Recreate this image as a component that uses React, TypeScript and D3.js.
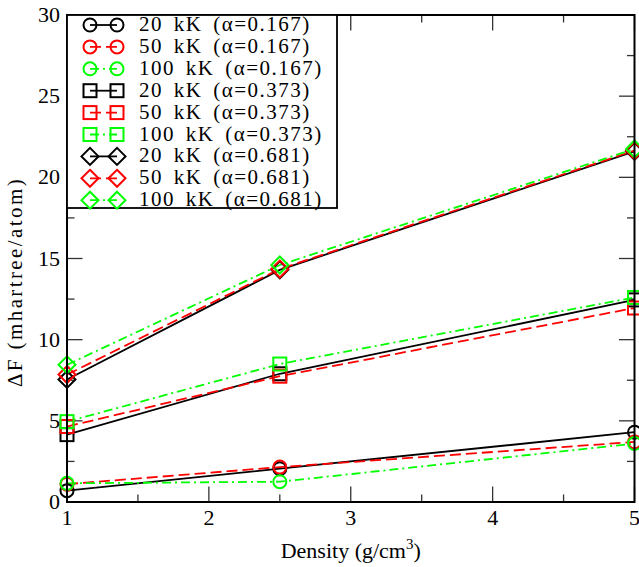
import React from 'react';
import * as d3 from 'd3';

// density points (g/cm^3)
const densities = [1, 2.5, 5];

// ΔF (mhartree/atom)
const c20_167 = [0.7, 2.05, 4.3];
const c50_167 = [1.1, 2.15, 3.7];
const c100_167 = [1.15, 1.25, 3.6];
const s20_373 = [4.15, 7.9, 12.45];
const s50_373 = [4.65, 7.75, 11.95];
const s100_373 = [4.95, 8.5, 12.6];
const d20_681 = [7.55, 14.3, 21.6];
const d50_681 = [7.85, 14.35, 21.65];
const d100_681 = [8.45, 14.6, 21.75];

const seriesNames = [
  '20 kK (α=0.167)', '50 kK (α=0.167)', '100 kK (α=0.167)',
  '20 kK (α=0.373)', '50 kK (α=0.373)', '100 kK (α=0.373)',
  '20 kK (α=0.681)', '50 kK (α=0.681)', '100 kK (α=0.681)',
];
const seriesValues = [
  c20_167, c50_167, c100_167,
  s20_373, s50_373, s100_373,
  d20_681, d50_681, d100_681,
];
const seriesShapes = ['circle', 'circle', 'circle', 'square', 'square', 'square', 'diamond', 'diamond', 'diamond'];
const seriesColors = ['#000000', '#ff0000', '#00ff00', '#000000', '#ff0000', '#00ff00', '#000000', '#ff0000', '#00ff00'];
const seriesDash = ['none', '11,5', '9,4,2,4', 'none', '11,5', '9,4,2,4', 'none', '11,5', '9,4,2,4'];

const xTicks = [1, 2, 3, 4, 5];
const yTicks = [0, 5, 10, 15, 20, 25, 30];

const W = 639;
const H = 567;
const margin = { top: 15, right: 4, bottom: 65, left: 67 };
const FONT = "'Liberation Serif', 'Times New Roman', serif";

const Marker = ({ shape, cx, cy, color }: { shape: string; cx: number; cy: number; color: string }) => {
  if (shape === 'circle') {
    return <circle cx={cx} cy={cy} r={6.5} fill="none" stroke={color} strokeWidth={2} />;
  }
  if (shape === 'square') {
    return <rect x={cx - 6.5} y={cy - 6.5} width={13} height={13} fill="none" stroke={color} strokeWidth={2} />;
  }
  const r = 8.5;
  return (
    <path d={`M${cx},${cy - r}L${cx + r},${cy}L${cx},${cy + r}L${cx - r},${cy}Z`}
      fill="none" stroke={color} strokeWidth={2} />
  );
};

export default function App() {
  const x = d3.scaleLinear().domain([1, 5]).range([margin.left, W - margin.right - 0.5]);
  const y = d3.scaleLinear().domain([0, 30]).range([H - margin.bottom, margin.top]);
  const x0 = x.range()[0], x1 = x.range()[1];
  const y0 = y.range()[0], y1 = y.range()[1];

  const line = d3.line<number>()
    .x((_, i) => x(densities[i]))
    .y(d => y(d));

  const xMinor = d3.range(1, 5.01, 0.5);
  const yMinor = d3.range(0, 30.01, 2.5);

  const legendX = x0;
  const legendY = y1;
  const legendW = 270;
  const legendH = 193;
  const rowH = 21.9;

  return (
    <div style={{ position: 'absolute', left: 0, top: 0 }}>
      <svg width={W} height={H} style={{ display: 'block', background: '#fff', fontFamily: FONT }}>
        {/* ticks, all four sides pointing inward */}
        <g stroke="#333" strokeWidth={1.3}>
          {xMinor.map(v => {
            const len = Number.isInteger(v) ? 15.5 : 7.5;
            return (
              <g key={'xt' + v}>
                <line x1={x(v)} x2={x(v)} y1={y0} y2={y0 - len} />
                <line x1={x(v)} x2={x(v)} y1={y1} y2={y1 + len} />
              </g>
            );
          })}
          {yMinor.map(v => {
            const len = v % 5 === 0 ? 15.5 : 7.5;
            return (
              <g key={'yt' + v}>
                <line x1={x0} x2={x0 + len} y1={y(v)} y2={y(v)} />
                <line x1={x1} x2={x1 - len} y1={y(v)} y2={y(v)} />
              </g>
            );
          })}
        </g>

        {/* series lines */}
        {seriesValues.map((vals, i) => (
          <path key={'l' + i} d={line(vals) || ''} fill="none" stroke={seriesColors[i]}
            strokeWidth={1.8} strokeDasharray={seriesDash[i]} />
        ))}
        {/* markers */}
        {seriesValues.map((vals, i) => (
          <g key={'m' + i}>
            {vals.map((v, j) => (
              <Marker key={j} shape={seriesShapes[i]} cx={x(densities[j])} cy={y(v)} color={seriesColors[i]} />
            ))}
          </g>
        ))}

        {/* frame */}
        <rect x={x0} y={y1} width={x1 - x0} height={y0 - y1} fill="none" stroke="#000" strokeWidth={2} />

        {/* tick labels */}
        {xTicks.map(t => (
          <text key={'xl' + t} x={x(t)} y={y0 + 23} textAnchor="middle" fontSize={22}>{t}</text>
        ))}
        {yTicks.map(t => (
          <text key={'yl' + t} x={x0 - 7} y={y(t) + 7} textAnchor="end" fontSize={22}>{t}</text>
        ))}

        {/* axis titles */}
        <text x={(x0 + x1) / 2} y={558} textAnchor="middle" fontSize={22}>
          Density (g/cm<tspan dy={-9} fontSize={15}>3</tspan><tspan dy={9}>)</tspan>
        </text>
        <text transform={`translate(22,282) rotate(-90)`} textAnchor="middle" fontSize={21} letterSpacing={2.4}>
          ΔF (mhartree/atom)
        </text>

        {/* legend */}
        <g>
          <rect x={legendX} y={legendY} width={legendW} height={legendH} fill="#fff" stroke="#000" strokeWidth={1.8} />
          {seriesNames.map((name, i) => {
            const cy = legendY + 10 + i * rowH;
            return (
              <g key={'lg' + i}>
                <line x1={90} x2={117} y1={cy} y2={cy} stroke={seriesColors[i]} strokeWidth={1.8}
                  strokeDasharray={seriesDash[i]} />
                <Marker shape={seriesShapes[i]} cx={90} cy={cy} color={seriesColors[i]} />
                <Marker shape={seriesShapes[i]} cx={117} cy={cy} color={seriesColors[i]} />
                <text x={139} y={cy + 6} fontSize={21} wordSpacing={4} letterSpacing={1.5}>{name}</text>
              </g>
            );
          })}
        </g>
      </svg>
    </div>
  );
}
